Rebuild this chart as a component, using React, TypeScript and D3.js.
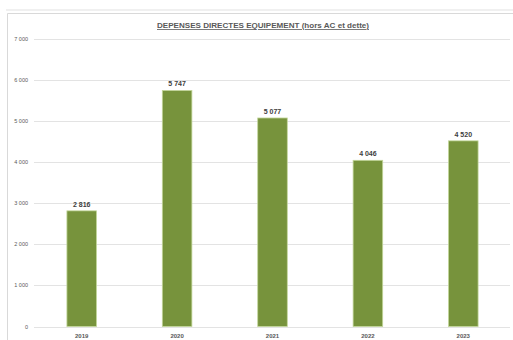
import React from "react";
import * as d3 from "d3";

const years = ["2019", "2020", "2021", "2022", "2023"];
const values = [2816, 5747, 5077, 4046, 4520];
const yTicks = [0, 1000, 2000, 3000, 4000, 5000, 6000, 7000];
const title = "DEPENSES DIRECTES EQUIPEMENT (hors AC et dette)";

const W = 513;
const H = 340;
const fmt = (v: number) => d3.format(",")(v).replace(/,/g, " ");

export default function App() {
  const x = d3
    .scaleBand<string>()
    .domain(years)
    .range([34, 511])
    .paddingInner(0.69)
    .paddingOuter(0.345);
  const y = d3.scaleLinear().domain([0, 7000]).range([326.5, 39]);
  const font = "'Liberation Sans', Arial, sans-serif";
  return (
    <div style={{ position: "absolute", left: 0, top: 0 }}>
      <svg width={W} height={H} style={{ display: "block", background: "#fff" }}>
        <rect x={6} y={9} width={W - 6} height={2} fill="#f0f0f0" />
        <path d={`M7.5,${H} V13.5 H${W}`} fill="none" stroke="#d9d9d9" strokeWidth={1} />
        <text
          x={263}
          y={28}
          textAnchor="middle"
          fontFamily={font}
          fontSize={8}
          fontWeight="bold"
          fill="#595959"
          textDecoration="underline"
          textLength={212}
          lengthAdjust="spacingAndGlyphs"
        >
          {title}
        </text>
        {yTicks.map((t) => (
          <g key={t}>
            <line x1={34} x2={510} y1={Math.round(y(t)) + 0.5} y2={Math.round(y(t)) + 0.5} stroke="#e3e3e3" strokeWidth={1} />
            <text
              x={28}
              y={y(t) + 2}
              textAnchor="end"
              fontFamily={font}
              fontSize={5.5}
              fill="#595959"
            >
              {fmt(t)}
            </text>
          </g>
        ))}
        {values.map((v, i) => {
          const bx = x(years[i])!;
          const bw = x.bandwidth();
          return (
            <g key={years[i]}>
              <rect
                x={bx}
                y={y(v)}
                width={bw}
                height={y(0) - y(v)}
                fill="#77933c"
                stroke="#c3d69b"
                strokeWidth={0.8}
              />
              <text
                x={bx + bw / 2}
                y={y(v) - 4}
                textAnchor="middle"
                fontFamily={font}
                fontSize={7}
                fontWeight="bold"
                fill="#404040"
              >
                {fmt(v)}
              </text>
              <text
                x={bx + bw / 2}
                y={338}
                textAnchor="middle"
                fontFamily={font}
                fontSize={6}
                fontWeight="bold"
                fill="#595959"
              >
                {years[i]}
              </text>
            </g>
          );
        })}
      </svg>
    </div>
  );
}
